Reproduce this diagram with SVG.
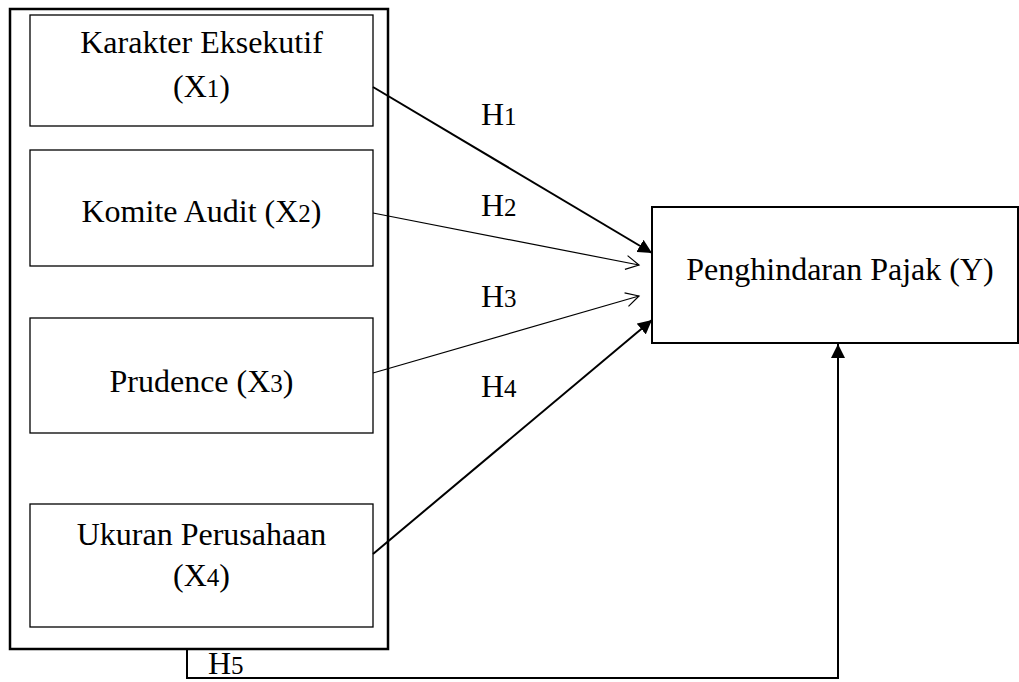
<svg xmlns="http://www.w3.org/2000/svg" width="1019" height="682" viewBox="0 0 1019 682">
<style>
text{font-family:"Liberation Serif","Times New Roman",serif;font-size:32px;fill:#000}
.c{text-anchor:middle}
.s{font-size:25px}
.box{fill:#fff;stroke:#000;stroke-width:1.3}
.outer{fill:#fff;stroke:#000;stroke-width:2.5}
.thick{fill:none;stroke:#000;stroke-width:2}
.thin{fill:none;stroke:#000;stroke-width:1.2}
</style>
<defs>
<marker id="fill" markerUnits="userSpaceOnUse" markerWidth="15" markerHeight="14" refX="14" refY="7" orient="auto"><path d="M0,0 L14,7 L0,14 z" fill="#000"/></marker>
<marker id="open" markerUnits="userSpaceOnUse" markerWidth="16" markerHeight="16" refX="14" refY="8" orient="auto"><path d="M1,1 L14,8 L1,15" fill="none" stroke="#000" stroke-width="1.2"/></marker>
</defs>
<rect width="1019" height="682" fill="#fff"/>
<g id="group-x">
<rect class="outer" x="10" y="9" width="378" height="640"/>
</g>
<g id="x1">
<rect class="box" x="30" y="15" width="343" height="111"/>
<text class="c" x="201.5" y="53">Karakter Eksekutif</text>
<text class="c" x="201.5" y="97">(X<tspan class="s">1</tspan>)</text>
</g>
<g id="x2">
<rect class="box" x="30" y="150" width="343" height="116"/>
<text class="c" x="201.5" y="222">Komite Audit (X<tspan class="s">2</tspan>)</text>
</g>
<g id="x3">
<rect class="box" x="30" y="318" width="343" height="115"/>
<text class="c" x="201.5" y="392">Prudence (X<tspan class="s">3</tspan>)</text>
</g>
<g id="x4">
<rect class="box" x="30" y="504" width="343" height="123"/>
<text class="c" x="201.5" y="545">Ukuran Perusahaan</text>
<text class="c" x="201.5" y="586">(X<tspan class="s">4</tspan>)</text>
</g>
<g id="y">
<rect class="box" style="stroke-width:2" x="652" y="207" width="366" height="136"/>
<text class="c" x="840" y="280">Penghindaran Pajak (Y)</text>
</g>
<g id="connectors">
<line class="thick" x1="373" y1="87" x2="652" y2="253" marker-end="url(#fill)"/>
<line class="thin" x1="373" y1="213" x2="639" y2="265" marker-end="url(#open)"/>
<line class="thin" x1="373" y1="373" x2="639" y2="296" marker-end="url(#open)"/>
<line class="thick" x1="373" y1="554" x2="652" y2="320" marker-end="url(#fill)"/>
<polyline class="thick" points="187,649 187,678 838,678 838,344" marker-end="url(#fill)"/>
<text x="481" y="125">H<tspan class="s">1</tspan></text>
<text x="481" y="216">H<tspan class="s">2</tspan></text>
<text x="481" y="307">H<tspan class="s">3</tspan></text>
<text x="481" y="397">H<tspan class="s">4</tspan></text>
<text x="208" y="674">H<tspan class="s">5</tspan></text>
</g>
</svg>
